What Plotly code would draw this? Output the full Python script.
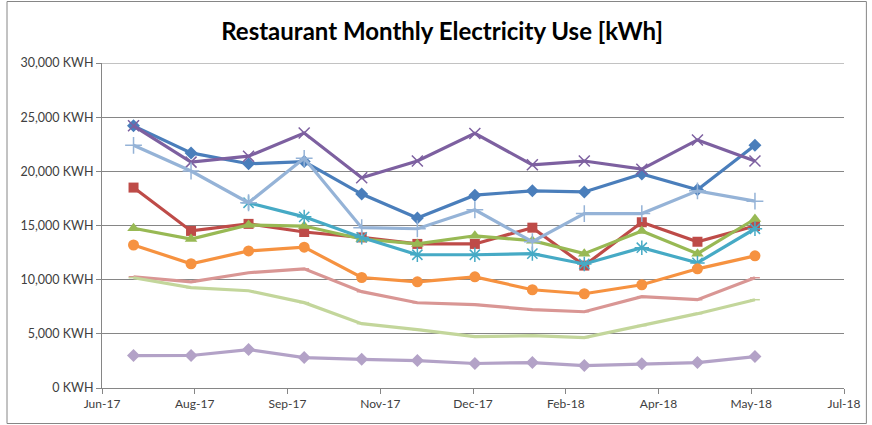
import plotly.graph_objects as go

months = ["2017-07-01", "2017-08-01", "2017-09-01", "2017-10-01", "2017-11-01", "2017-12-01",
          "2018-01-01", "2018-02-01", "2018-03-01", "2018-04-01", "2018-05-01", "2018-06-01"]

s1 = [24200, 21700, 20700, 20900, 17900, 15700, 17800, 18200, 18100, 19750, 18300, 22400]
s2 = [18500, 14500, 15150, 14400, 13900, 13300, 13300, 14800, 11300, 15300, 13500, 14950]
s3 = [14750, 13750, 15050, 14950, 13750, 13300, 14050, 13600, 12400, 14500, 12400, 15600]
s4 = [24200, 20850, 21400, 23530, 19400, 20950, 23500, 20600, 20950, 20200, 22900, 20950]
s5 = [None, None, 17100, 15800, 13900, 12300, 12300, 12400, 11450, 12950, 11550, 14700]
s6 = [13200, 11470, 12650, 13000, 10200, 9800, 10260, 9070, 8700, 9530, 11000, 12200]
s7 = [22400, 20030, 17100, 21200, 14800, 14700, 16450, 13500, 16100, 16100, 18200, 17250]
s8 = [10270, 9800, 10640, 11000, 8890, 7870, 7700, 7230, 7040, 8430, 8150, 10180]
s9 = [10180, 9260, 8980, 7880, 5940, 5390, 4740, 4830, 4650, 5760, 6860, 8150]
s10 = [2990, 3000, 3550, 2810, 2650, 2530, 2260, 2350, 2070, 2230, 2350, 2900]

series = [
    (s1, "#4A7EBB", "diamond", 10, False),
    (s2, "#BE4B48", "square", 10, False),
    (s3, "#98B954", "triangle-up", 11, False),
    (s4, "#7D60A0", "x-thin", 11, True),
    (s5, "#46AAC5", "asterisk", 12, True),
    (s6, "#F69240", "circle", 11, False),
    (s7, "#95B3D7", "cross-thin", 12, True),
    (s8, "#D99694", "line-ew", 7, True),
    (s9, "#C3D69B", "line-ew", 7, True),
    (s10, "#B3A2C7", "diamond", 10, False),
]

fig = go.Figure()
for vals, col, sym, size, thin in series:
    marker = dict(symbol=sym, size=size, color=col)
    if thin:
        marker["line"] = dict(color=col, width=1.5)
    else:
        marker["line"] = dict(color=col, width=0)
    fig.add_trace(go.Scatter(x=months, y=vals, mode="lines+markers",
                             line=dict(color=col, width=3.2),
                             marker=marker, showlegend=False, connectgaps=False))

axis_col = "#868686"
fig.update_layout(
    width=872, height=425,
    margin=dict(l=102, r=24, t=63, b=37),
    paper_bgcolor="white", plot_bgcolor="white",
    title=dict(text="<b>Restaurant Monthly Electricity Use [kWh]</b>",
               x=0.507, xanchor="center", y=0.925, yanchor="middle",
               font=dict(family="Lato", size=24, color="#000000")),
    font=dict(family="Lato", size=12, color="#404040"),
    xaxis=dict(type="date", range=["2017-06-14", "2018-07-19"],
               tick0="2017-06-14", dtick=50 * 86400000, tickformat="%b-%y",
               showgrid=False, showline=True, linecolor=axis_col, linewidth=1,
               ticks="outside", ticklen=5, tickcolor=axis_col, zeroline=False,
               tickfont=dict(family="Lato", size=12, color="#404040")),
    yaxis=dict(range=[0, 30000], dtick=5000, tickformat=",d", ticksuffix=" KWH",
               showgrid=True, gridcolor=axis_col, gridwidth=1,
               showline=True, linecolor=axis_col, linewidth=1,
               ticks="outside", ticklen=5, tickcolor=axis_col, zeroline=False,
               tickfont=dict(family="Lato", size=12.5, color="#404040")),
    shapes=[
        dict(type="rect", xref="paper", yref="paper",
             x0=(6.5 - 102) / 746, x1=(870.5 - 102) / 746,
             y0=(388 - 423.5) / 325, y1=(388 - 1.5) / 325,
             line=dict(color=axis_col, width=1), fillcolor="rgba(0,0,0,0)"),
        dict(type="line", xref="paper", yref="y", x0=0, x1=1, y0=30000, y1=30000,
             line=dict(color=axis_col, width=1), layer="below"),
    ],
)

fig.write_html("out.html", config={"displayModeBar": False},
               post_script="document.body.style.margin='0';document.body.style.overflow='hidden';")
